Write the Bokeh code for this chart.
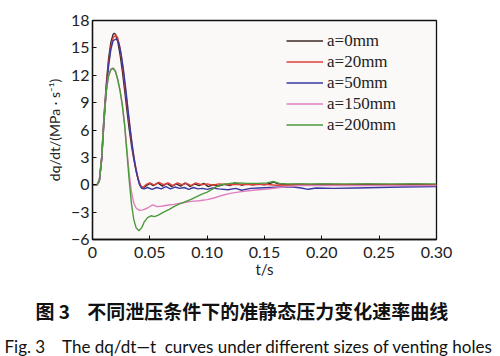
from bokeh.plotting import figure
from bokeh.models import FixedTicker, Range1d, Title
from bokeh.embed import file_html
from bokeh.resources import INLINE

# ---------------- data ----------------
t_a0 = [0, 0.004, 0.006, 0.008, 0.010, 0.012, 0.014, 0.016, 0.018, 0.019, 0.020, 0.022, 0.024, 0.026, 0.028,
        0.030, 0.032, 0.034, 0.036, 0.038, 0.040, 0.042, 0.044, 0.047, 0.050, 0.053, 0.057, 0.061, 0.065, 0.069,
        0.073, 0.077, 0.081, 0.085, 0.089, 0.093, 0.097, 0.101, 0.105, 0.110, 0.115, 0.120, 0.124, 0.130, 0.135,
        0.140, 0.145, 0.150, 0.155, 0.158, 0.162, 0.170, 0.180, 0.190, 0.200, 0.220, 0.240, 0.260, 0.280, 0.300]
v_a0 = [0, 0, 0.5, 3.0, 7.5, 11.0, 13.8, 15.6, 16.5, 16.6, 16.5, 15.7, 14.3, 12.5, 10.4,
        8.2, 6.1, 4.3, 2.8, 1.5, 0.5, -0.2, -0.35, -0.1, 0.15, -0.1, 0.2, -0.15, 0.15, -0.2,
        0.1, -0.15, 0.2, -0.2, 0.1, -0.1, 0.15, -0.2, 0.0, -0.15, 0.05, -0.1, 0.2, -0.05, 0.1,
        0.0, 0.1, 0.0, 0.15, 0.3, 0.1, 0.0, 0.05, 0.0, 0.05, 0.0, 0.05, 0.0, 0.05, 0.0]

t_a20 = [0, 0.004, 0.006, 0.008, 0.010, 0.012, 0.014, 0.016, 0.018, 0.0205, 0.022, 0.024, 0.026, 0.028, 0.030,
         0.032, 0.034, 0.036, 0.038, 0.040, 0.042, 0.044, 0.047, 0.050, 0.054, 0.058, 0.062, 0.066, 0.070, 0.074,
         0.078, 0.082, 0.086, 0.090, 0.095, 0.100, 0.105, 0.110, 0.120, 0.130, 0.140, 0.150, 0.160, 0.180, 0.200,
         0.220, 0.240, 0.260, 0.280, 0.300]
v_a20 = [0, 0, 0.4, 2.8, 7.0, 10.6, 13.3, 15.1, 16.1, 16.4, 16.1, 15.0, 13.3, 11.2, 9.0,
         6.8, 4.8, 3.1, 1.7, 0.6, -0.1, -0.3, 0.05, 0.2, -0.05, 0.25, 0.0, 0.2, -0.1, 0.2,
         0.0, 0.15, -0.1, 0.2, 0.0, 0.1, -0.05, 0.1, 0.0, 0.05, 0.0, 0.05, -0.05, 0.0, -0.05,
         0.0, -0.05, 0.0, -0.05, 0.0]

t_a50 = [0, 0.004, 0.006, 0.008, 0.010, 0.012, 0.014, 0.016, 0.018, 0.021, 0.023, 0.025, 0.027, 0.029, 0.031,
         0.033, 0.035, 0.037, 0.039, 0.041, 0.043, 0.045, 0.048, 0.052, 0.056, 0.060, 0.064, 0.068, 0.072, 0.076,
         0.080, 0.084, 0.088, 0.092, 0.096, 0.100, 0.105, 0.110, 0.118, 0.125, 0.130, 0.138, 0.145, 0.155, 0.165,
         0.175, 0.182, 0.188, 0.195, 0.210, 0.230, 0.250, 0.270, 0.300]
v_a50 = [0, 0, 0.4, 2.7, 6.8, 10.3, 13.0, 14.8, 15.8, 16.0, 15.5, 14.3, 12.6, 10.5, 8.2,
         6.0, 4.0, 2.3, 1.0, 0.0, -0.4, -0.45, -0.3, -0.5, -0.3, -0.45, -0.2, -0.45, -0.25, -0.4,
         -0.3, -0.5, -0.3, -0.45, -0.4, -0.5, -0.35, -0.45, -0.55, -0.4, -0.6, -0.4, -0.35, -0.3, -0.25,
         -0.25, -0.35, -0.5, -0.35, -0.4, -0.35, -0.3, -0.25, -0.2]

t_a150 = [0, 0.004, 0.006, 0.008, 0.010, 0.012, 0.014, 0.016, 0.018, 0.020, 0.022, 0.024, 0.026, 0.028, 0.030,
          0.032, 0.034, 0.036, 0.038, 0.041, 0.044, 0.048, 0.051, 0.053, 0.056, 0.060, 0.065, 0.071, 0.078, 0.086,
          0.093, 0.100, 0.106, 0.112, 0.120, 0.130, 0.140, 0.150, 0.160, 0.170, 0.180, 0.190, 0.220, 0.260, 0.300]
v_a150 = [0, 0, 0.5, 3.0, 7.2, 10.3, 12.0, 12.7, 12.8, 12.5, 11.6, 10.4, 8.8, 6.7, 3.9,
          1.2, -0.8, -2.0, -2.55, -2.8, -2.75, -2.55, -2.3, -2.2, -2.4, -2.35, -2.25, -2.15, -2.0, -1.82,
          -1.75, -1.63, -1.45, -1.2, -0.95, -0.75, -0.6, -0.5, -0.35, -0.2, -0.1, -0.08, -0.1, -0.1, -0.1]

t_a200 = [0, 0.004, 0.006, 0.008, 0.010, 0.012, 0.014, 0.016, 0.018, 0.020, 0.022, 0.024, 0.026, 0.028, 0.030,
          0.032, 0.034, 0.036, 0.038, 0.0405, 0.043, 0.045, 0.048, 0.051, 0.054, 0.057, 0.062, 0.067, 0.071, 0.076,
          0.081, 0.086, 0.090, 0.095, 0.100, 0.105, 0.108, 0.112, 0.117, 0.122, 0.127, 0.135, 0.145, 0.152, 0.158,
          0.163, 0.170, 0.200, 0.250, 0.300]
v_a200 = [0, 0, 0.5, 3.0, 7.2, 10.2, 11.9, 12.6, 12.75, 12.4, 11.5, 10.3, 8.7, 6.5, 3.5,
          0.5, -2.1, -3.8, -4.7, -5.05, -4.7, -4.1, -3.6, -3.4, -3.5, -3.35, -3.0, -2.7, -2.4, -2.1,
          -1.85, -1.6, -1.35, -1.05, -0.8, -0.45, -0.2, 0.0, 0.1, 0.18, 0.2, 0.15, 0.15, 0.2, 0.35,
          0.15, 0.1, 0.1, 0.1, 0.1]

series = [
    ("a=0mm", t_a0, v_a0, "#3b2a2a"),
    ("a=20mm", t_a20, v_a20, "#e0403c"),
    ("a=50mm", t_a50, v_a50, "#3838a0"),
    ("a=150mm", t_a150, v_a150, "#de7fbf"),
    ("a=200mm", t_a200, v_a200, "#4a9a3c"),
]

x_ticks = [0, 0.05, 0.10, 0.15, 0.20, 0.25, 0.30]
x_tick_labels = ["0", "0.05", "0.10", "0.15", "0.20", "0.25", "0.30"]
y_ticks = [-6, -3, 0, 3, 6, 9, 12, 15, 18]
y_tick_labels = ["\u22126", "\u22123", "0", "3", "6", "9", "12", "15", "18"]

NB = "\u00a0"
caption_cn = "图 3" + NB * 4 + "不同泄压条件下的准静态压力变化速率曲线"
caption_en = "Fig. 3" + NB * 4 + "The dq/dt\u2014t" + NB * 2 + "curves under different sizes of venting holes"

# ---------------- figure ----------------
p = figure(width=500, height=356, output_backend="svg", toolbar_location=None,
           x_range=Range1d(0, 0.30), y_range=Range1d(-6, 18),
           min_border_left=92, min_border_right=64, min_border_top=20, min_border_bottom=117)

p.background_fill_color = "#fbf9f7"
p.border_fill_color = "#ffffff"
p.outline_line_color = "#111111"
p.outline_line_width = 1.3
p.grid.visible = False

for label, t, v, c in series:
    p.line(t, v, line_color=c, line_width=1.4, legend_label=label)

TICK_FONT = "Lato"
for ax in (p.xaxis[0], p.yaxis[0]):
    ax.major_tick_in = 4
    ax.major_tick_out = 0
    ax.minor_tick_in = 0
    ax.minor_tick_out = 0
    ax.axis_line_color = "#111111"
    ax.axis_line_width = 1.3
    ax.major_tick_line_color = "#111111"
    ax.major_label_text_font = TICK_FONT
    ax.major_label_text_font_size = "16px"
    ax.major_label_text_color = "#222222"
    ax.axis_label_text_font = TICK_FONT
    ax.axis_label_text_font_size = "15px"
    ax.axis_label_text_font_style = "normal"
    ax.axis_label_text_color = "#222222"

p.xaxis.ticker = FixedTicker(ticks=x_ticks)
p.xaxis.major_label_overrides = dict(zip(x_ticks, x_tick_labels))
p.yaxis.ticker = FixedTicker(ticks=y_ticks)
p.yaxis.major_label_overrides = dict(zip(y_ticks, y_tick_labels))
p.xaxis.major_label_standoff = 7
p.yaxis.major_label_standoff = 3
p.xaxis.axis_label = "t/s"
p.xaxis.axis_label_standoff = -1
p.yaxis.axis_label = "dq/dt/(MPa \u00b7 s\u207b\u00b9)"
p.yaxis.axis_label_text_font_size = "14px"
p.yaxis.axis_label_standoff = 5

lg = p.legend[0]
lg.location = (194, 104)
lg.padding = 0
lg.margin = 0
lg.spacing = 0
lg.border_line_alpha = 0
lg.background_fill_alpha = 0
lg.glyph_width = 37
lg.glyph_height = 21
lg.label_height = 21
lg.label_standoff = 4
lg.label_text_font = "Liberation Serif"
lg.label_text_font_size = "17px"
lg.label_text_color = "#222222"

t_cn = Title(text=caption_cn, align="left", offset=-57, text_font="Noto Sans CJK SC", text_font_style="bold",
             text_font_size="19px", text_color="#111111", standoff=28)
t_en = Title(text=caption_en, align="left", offset=-88, text_font="Lato", text_font_style="normal",
             text_font_size="17px", text_color="#111111", standoff=-7)
p.add_layout(t_cn, "below")
p.add_layout(t_en, "below")

open("out.html", "w").write(file_html(p, INLINE))
